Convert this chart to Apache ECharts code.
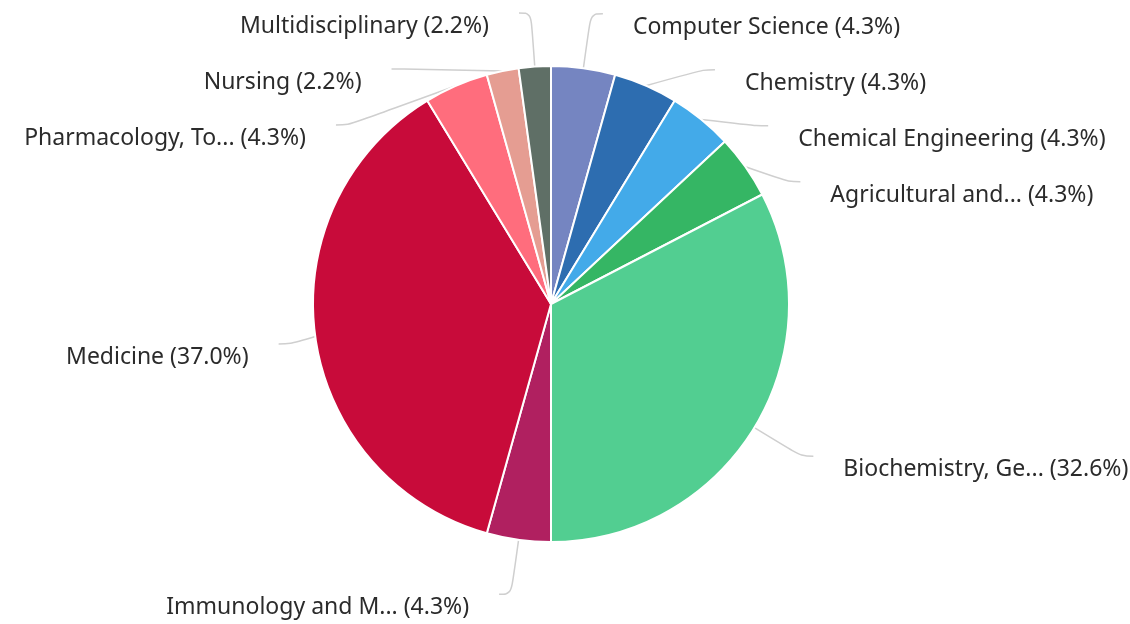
<!DOCTYPE html>
<html style="height: 100%">
<head>
  <meta charset="utf-8">
  <script src="https://cdn.jsdelivr.net/npm/echarts@6/dist/echarts.min.js"></script>
</head>
<body style="width:1130px;height:624px;margin:0;background:#fff;overflow:hidden;position:relative">
<!-- chart area is a bit larger than the visible window, the top labels get cut like in the screenshot -->
<div id="container" style="position:absolute;left:-20px;top:-15px;width:1170px;height:654px;"></div>
<script type="text/javascript">
// subject areas, clockwise from 12 o'clock
var areaNames = [
  'Computer Science',
  'Chemistry',
  'Chemical Engineering',
  'Agricultural and Biological Sciences',
  'Biochemistry, Genetics and Molecular Biology',
  'Immunology and Microbiology',
  'Medicine',
  'Pharmacology, Toxicology and Pharmaceutics',
  'Nursing',
  'Multidisciplinary'
];
// document counts
var areaCounts = [2, 2, 2, 2, 15, 2, 17, 2, 1, 1];
var areaColors = ['#7585c1', '#2d6db0', '#43aae9', '#35b664', '#52ce91',
                  '#b02060', '#c80b3a', '#ff6d7d', '#e59d92', '#5f6f66'];

var total = 0;
for (var i = 0; i < areaCounts.length; i++) total += areaCounts[i];

var pieData = [];
for (var i = 0; i < areaNames.length; i++) {
  pieData.push({ name: areaNames[i], value: areaCounts[i], itemStyle: { color: areaColors[i] } });
}

function shortName(n) {
  return n.length > 20 ? n.substr(0, 16) + '...' : n;
}

var myChart = echarts.init(document.getElementById('container'));
var option = {
  animation: false,
  series: [{
    type: 'pie',
    center: [571, 319],
    radius: 238,
    startAngle: 90,
    clockwise: true,
    data: pieData,
    itemStyle: { borderColor: '#fff', borderWidth: 2 },
    label: {
      color: '#2b2b2b',
      fontFamily: 'Noto Sans',
      fontSize: 23,
      lineHeight: 27,
      overflow: 'none',
      distanceToLabelLine: 30,
      // empty first line drops the text a little below the line end
      formatter: function (p) {
        return '\n' + shortName(p.name) + ' (' + (p.value / total * 100).toFixed(1) + '%)';
      }
    },
    labelLine: {
      length: 55,
      length2: 12,
      smooth: 0.4,
      lineStyle: { color: '#cfcfcf', width: 1.5 }
    }
  }]
};
myChart.setOption(option);
</script>
</body>
</html>
